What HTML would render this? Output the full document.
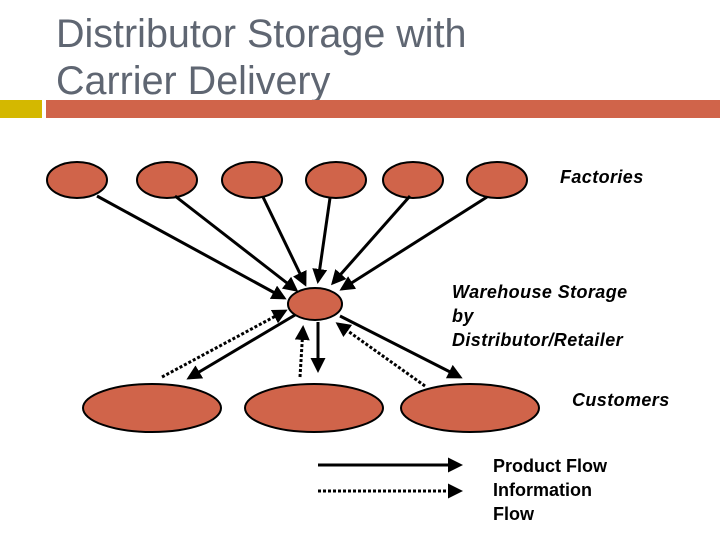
<!DOCTYPE html>
<html><head><style>
body{margin:0;width:720px;height:540px;background:#fff;overflow:hidden;position:relative;font-family:"Liberation Sans",sans-serif}
.t{position:absolute;left:56px;top:11px;font-size:39.5px;line-height:47px;color:#5f6672}
.l{position:absolute;font-size:18px;font-style:italic;font-weight:bold;color:#000;line-height:24px;letter-spacing:0.4px}
.n{position:absolute;font-size:18px;font-weight:bold;color:#000;line-height:24px}
</style></head><body>
<div class="t">Distributor Storage with<br>Carrier Delivery</div>
<svg width="720" height="540" style="position:absolute;left:0;top:0">
<defs><marker id="a" markerWidth="5" markerHeight="5" refX="4" refY="2.5" orient="auto"><path d="M0,0L5,2.5L0,5z" fill="#000"/></marker></defs>
<rect x="0" y="100" width="42" height="18" fill="#d4b800"/>
<rect x="46" y="100" width="674" height="18" fill="#d0644a"/>
<g fill="#d0644a" stroke="#000" stroke-width="2">
<ellipse cx="77" cy="180" rx="30" ry="18"/><ellipse cx="167" cy="180" rx="30" ry="18"/>
<ellipse cx="252" cy="180" rx="30" ry="18"/><ellipse cx="336" cy="180" rx="30" ry="18"/>
<ellipse cx="413" cy="180" rx="30" ry="18"/><ellipse cx="497" cy="180" rx="30" ry="18"/>
<ellipse cx="315" cy="304" rx="27" ry="16"/>
<ellipse cx="152" cy="408" rx="69" ry="24"/><ellipse cx="314" cy="408" rx="69" ry="24"/><ellipse cx="470" cy="408" rx="69" ry="24"/>
</g>
<g stroke="#000" stroke-width="3" marker-end="url(#a)">
<line x1="97" y1="196" x2="284" y2="298"/><line x1="175" y1="196" x2="296" y2="290"/>
<line x1="263" y1="197" x2="305" y2="284"/><line x1="330" y1="198" x2="318" y2="281"/>
<line x1="410" y1="196" x2="333" y2="283"/><line x1="487" y1="197" x2="342" y2="289"/>
<line x1="295" y1="315" x2="189" y2="378"/><line x1="318" y1="322" x2="318" y2="370"/>
<line x1="340" y1="316" x2="460" y2="377"/>
<line x1="318" y1="465" x2="460" y2="465"/>
</g>
<g stroke="#000" stroke-width="3" stroke-dasharray="3,2" marker-end="url(#a)">
<line x1="162" y1="377" x2="285" y2="311"/><line x1="300" y1="377" x2="303" y2="328"/>
<line x1="425" y1="386" x2="338" y2="324"/>
<line x1="318" y1="491" x2="460" y2="491"/>
</g>
</svg>
<div class="l" style="left:560px;top:165px">Factories</div>
<div class="l" style="left:452px;top:280px">Warehouse Storage<br>by<br>Distributor/Retailer</div>
<div class="l" style="left:572px;top:388px">Customers</div>
<div class="n" style="left:493px;top:454px">Product Flow<br>Information<br>Flow</div>
</body></html>
